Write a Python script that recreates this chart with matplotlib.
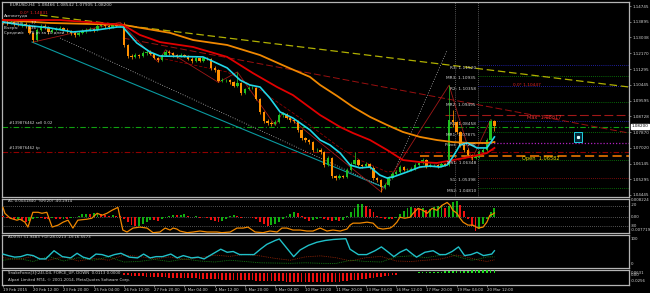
import matplotlib
matplotlib.use("Agg")
import matplotlib.pyplot as plt
from matplotlib.patches import Rectangle
from matplotlib.transforms import blended_transform_factory

plt.rcParams['font.family'] = ['DejaVu Sans']

# ---------------- data (EURUSD H4, 19 Feb 04:00 .. 20 Mar 2015) ----------------
opens = [1.1390, 1.1387, 1.1382, 1.1387, 1.1377, 1.1372, 1.1377, 1.1366, 1.1328, 1.1289,
         1.1344, 1.1366, 1.1360, 1.1333, 1.1344, 1.1349, 1.1355, 1.1344, 1.1338, 1.1328,
         1.1317, 1.1328, 1.1338, 1.1344, 1.1349, 1.1344, 1.1366, 1.1372, 1.1366, 1.1360,
         1.1372, 1.1366, 1.1372, 1.1262, 1.1202, 1.1197, 1.1207, 1.1202, 1.1218, 1.1224,
         1.1213, 1.1191, 1.1180, 1.1207, 1.1224, 1.1218, 1.1207, 1.1202, 1.1207, 1.1202,
         1.1186, 1.1175, 1.1191, 1.1175, 1.1191, 1.1186, 1.1137, 1.1126, 1.1066, 1.1071,
         1.1071, 1.1060, 1.1039, 1.1055, 1.1000, 1.1022, 1.1028, 1.1028, 1.0968, 1.0897,
         1.0848, 1.0837, 1.0831, 1.0842, 1.0880, 1.0886, 1.0864, 1.0853, 1.0848, 1.0799,
         1.0755, 1.0744, 1.0733, 1.0690, 1.0690, 1.0679, 1.0608, 1.0646, 1.0548, 1.0537,
         1.0548, 1.0543, 1.0581, 1.0613, 1.0635, 1.0608, 1.0602, 1.0613, 1.0592, 1.0537,
         1.0526, 1.0488, 1.0499, 1.0537, 1.0559, 1.0570, 1.0597, 1.0581, 1.0581, 1.0586,
         1.0608, 1.0619, 1.0635, 1.0602, 1.0608, 1.0608, 1.0602, 1.0613, 1.0608, 1.0853,
         1.0842, 1.0788, 1.0717, 1.0690, 1.0662, 1.0646, 1.0652, 1.0679, 1.0690, 1.0744,
         1.0847]
closes = [1.1387, 1.1382, 1.1387, 1.1377, 1.1372, 1.1377, 1.1366, 1.1328, 1.1289, 1.1344,
          1.1366, 1.1360, 1.1333, 1.1344, 1.1349, 1.1355, 1.1344, 1.1338, 1.1328, 1.1317,
          1.1328, 1.1338, 1.1344, 1.1349, 1.1344, 1.1366, 1.1372, 1.1366, 1.1360, 1.1372,
          1.1366, 1.1372, 1.1262, 1.1202, 1.1197, 1.1207, 1.1202, 1.1218, 1.1224, 1.1213,
          1.1191, 1.1180, 1.1207, 1.1224, 1.1218, 1.1207, 1.1202, 1.1207, 1.1202, 1.1186,
          1.1175, 1.1191, 1.1175, 1.1191, 1.1186, 1.1137, 1.1126, 1.1066, 1.1071, 1.1071,
          1.1060, 1.1039, 1.1055, 1.1000, 1.1022, 1.1028, 1.1028, 1.0968, 1.0897, 1.0848,
          1.0837, 1.0831, 1.0842, 1.0880, 1.0886, 1.0864, 1.0853, 1.0848, 1.0799, 1.0755,
          1.0744, 1.0733, 1.0690, 1.0690, 1.0679, 1.0608, 1.0646, 1.0548, 1.0537, 1.0548,
          1.0543, 1.0581, 1.0613, 1.0635, 1.0608, 1.0602, 1.0613, 1.0592, 1.0537, 1.0526,
          1.0488, 1.0499, 1.0537, 1.0559, 1.0570, 1.0597, 1.0581, 1.0581, 1.0586, 1.0608,
          1.0619, 1.0635, 1.0602, 1.0608, 1.0608, 1.0602, 1.0613, 1.0608, 1.0853, 1.0842,
          1.0788, 1.0717, 1.0690, 1.0662, 1.0646, 1.0652, 1.0679, 1.0690, 1.0744, 1.0847,
          1.0820]
highs = [1.1401, 1.1396, 1.1398, 1.1395, 1.1388, 1.1386, 1.1385, 1.1374, 1.1335, 1.1352,
         1.1378, 1.1377, 1.1368, 1.1353, 1.1358, 1.1364, 1.1362, 1.1352, 1.1346, 1.1336,
         1.1337, 1.1348, 1.1353, 1.1359, 1.1357, 1.1376, 1.1384, 1.1381, 1.1374, 1.1383,
         1.1380, 1.1384, 1.1386, 1.1270, 1.1212, 1.1216, 1.1215, 1.1228, 1.1234, 1.1232,
         1.1220, 1.1199, 1.1215, 1.1236, 1.1232, 1.1225, 1.1214, 1.1216, 1.1215, 1.1210,
         1.1194, 1.1200, 1.1198, 1.1199, 1.1198, 1.1193, 1.1145, 1.1133, 1.1080, 1.1079,
         1.1078, 1.1068, 1.1115, 1.1061, 1.1030, 1.1036, 1.1036, 1.1035, 1.0975, 1.0905,
         1.0856, 1.0846, 1.0851, 1.0890, 1.0895, 1.0893, 1.0871, 1.0860, 1.0855, 1.0806,
         1.0762, 1.0752, 1.0740, 1.0699, 1.0698, 1.0686, 1.0656, 1.0652, 1.0556, 1.0557,
         1.0555, 1.0590, 1.0622, 1.0679, 1.0642, 1.0616, 1.0622, 1.0620, 1.0600, 1.0545,
         1.0533, 1.0510, 1.0546, 1.0568, 1.0580, 1.0606, 1.0605, 1.0590, 1.0595, 1.0617,
         1.0628, 1.0648, 1.0642, 1.0617, 1.0616, 1.0615, 1.0622, 1.0620, 1.1043, 1.0910,
         1.0850, 1.0795, 1.0725, 1.0698, 1.0670, 1.0662, 1.0688, 1.0699, 1.0753, 1.0856,
         1.0854]
lows = [1.1378, 1.1372, 1.1374, 1.1368, 1.1363, 1.1362, 1.1355, 1.1320, 1.1278, 1.1284,
        1.1338, 1.1351, 1.1324, 1.1325, 1.1336, 1.1342, 1.1336, 1.1330, 1.1319, 1.1305,
        1.1309, 1.1320, 1.1330, 1.1336, 1.1335, 1.1337, 1.1358, 1.1357, 1.1351, 1.1352,
        1.1358, 1.1359, 1.1250, 1.1190, 1.1188, 1.1189, 1.1193, 1.1195, 1.1210, 1.1205,
        1.1183, 1.1170, 1.1174, 1.1200, 1.1210, 1.1199, 1.1193, 1.1195, 1.1194, 1.1178,
        1.1166, 1.1168, 1.1167, 1.1168, 1.1178, 1.1128, 1.1117, 1.1058, 1.1059, 1.1063,
        1.1052, 1.1031, 1.1033, 1.0992, 1.0994, 1.1015, 1.1020, 1.0960, 1.0888, 1.0838,
        1.0828, 1.0822, 1.0824, 1.0835, 1.0872, 1.0856, 1.0845, 1.0839, 1.0790, 1.0746,
        1.0735, 1.0724, 1.0681, 1.0680, 1.0670, 1.0598, 1.0600, 1.0538, 1.0527, 1.0530,
        1.0535, 1.0536, 1.0574, 1.0606, 1.0600, 1.0594, 1.0595, 1.0584, 1.0528, 1.0516,
        1.0462, 1.0478, 1.0492, 1.0530, 1.0551, 1.0563, 1.0573, 1.0573, 1.0574, 1.0579,
        1.0600, 1.0611, 1.0594, 1.0595, 1.0600, 1.0594, 1.0595, 1.0600, 1.0600, 1.0815,
        1.0778, 1.0708, 1.0681, 1.0655, 1.0637, 1.0638, 1.0645, 1.0671, 1.0683, 1.0737,
        1.0791]

# moving averages (bar position, price)
cyan_b = [0, 4.5, 12.4, 18.5, 24.9, 30.2, 31.7, 35.4, 38.9, 41.5, 52.9, 54.8, 59.3, 62.7, 65.3,
          68.0, 70.6, 73.3, 76.7, 81.2, 83.9, 86.5, 89.2, 91.8, 94.4, 97.1, 99.7, 101.6, 103.2,
          106.9, 110.3, 113.0, 115.6, 117.5, 119.0, 120.9, 122.8, 125.4, 128.0, 129.1, 130]
cyan_p = [1.1387, 1.1372, 1.1355, 1.1333, 1.1344, 1.1360, 1.1360, 1.1273, 1.1224, 1.1202,
          1.1197, 1.1180, 1.1137, 1.1071, 1.1044, 1.1033, 1.0973, 1.0897, 1.0864, 1.0799,
          1.0744, 1.0717, 1.0673, 1.0608, 1.0592, 1.0597, 1.0553, 1.0537, 1.0543, 1.0570,
          1.0597, 1.0602, 1.0597, 1.0608, 1.0652, 1.0717, 1.0728, 1.0701, 1.0701, 1.0733, 1.0761]
red_b = [0, 15.1, 31.7, 36.2, 41.5, 50.3, 59.3, 66.1, 72.5, 76.7, 83.9, 89.2, 92.6, 97.1, 101.6,
         105.8, 110.3, 114.8, 119.0, 123.5, 128.0, 130]
red_p = [1.1398, 1.1398, 1.1372, 1.1317, 1.1278, 1.1251, 1.1197, 1.1109, 1.1033, 1.0989, 1.0880,
         1.0815, 1.0782, 1.0744, 1.0690, 1.0635, 1.0624, 1.0619, 1.0635, 1.0652, 1.0673, 1.0701]
orange_b = [0, 12.4, 31.7, 44.2, 50.3, 59.3, 68.0, 75.1, 81.2, 83.9, 88.4, 92.6, 97.1, 101.6,
            105.8, 110.3, 114.8, 119.0, 123.5, 128.0, 130]
orange_p = [1.1398, 1.1382, 1.1372, 1.1328, 1.1289, 1.1262, 1.1207, 1.1142, 1.1088, 1.1044,
            1.0984, 1.0924, 1.0870, 1.0826, 1.0788, 1.0761, 1.0744, 1.0733, 1.0728, 1.0728, 1.0733]
env_b = [41.5, 59.3, 68.0, 78.6, 89.2, 94.4, 101.6, 110.3, 119.0, 130]
env_p = [1.1191, 1.1115, 1.1017, 1.0864, 1.0701, 1.0635, 1.0570, 1.0592, 1.0624, 1.0690]
zz_b = [8, 31, 41, 43, 57, 62, 72, 74, 100, 118, 124, 129]
zz_p = [1.1278, 1.1386, 1.1170, 1.1236, 1.1058, 1.1115, 1.0824, 1.0895, 1.0462, 1.1043, 1.0637, 1.0856]

# trend lines (start bar, start price, end bar, end price)
yellow_tl = (9.8, 1.1425, 165.6, 1.1033)
darkred_tl = (31.7, 1.1300, 165.6, 1.0782)
teal_tl = (7.7, 1.1278, 101.1, 1.0483)
grey_tl1 = (15.1, 1.1300, 100.5, 1.0488)
grey_tl2 = (101.9, 1.0499, 117.5, 1.1235)
day_sep = [119.6, 125.7]

# pivot levels
piv_names = ["R3", "MR3", "R2", "MR2", "R1", "MR1", "Pivot", "MS1", "S1", "MS2"]
piv_vals = [1.11520, 1.10935, 1.10358, 1.09495, 1.08458, 1.07875, 1.07290, 1.06348, 1.05398, 1.04810]
piv_cols = ["#2a2ad0", "#0a8a0a", "#2a2ad0", "#0a8a0a", "#2a2ad0", "#0a8a0a", "#b020c0",
            "#0a8a0a", "#a01010", "#0a8a0a"]
sell_level = 1.0815
tp_level = 1.0679
max_level = 1.08817
open_level = 1.06582
fib_top = 1.10447

price_ticks = [1.14745, 1.13895, 1.13038, 1.12170, 1.11295, 1.10445, 1.09595, 1.08728,
               1.07870, 1.07020, 1.06145, 1.05295, 1.04445]
time_pos = [0, 8, 16, 24, 32, 40, 48, 56, 64, 72, 80, 88, 96, 104, 112, 120, 128]
time_lbl = ["19 Feb 2015", "20 Feb 12:00", "23 Feb 20:00", "25 Feb 04:00", "26 Feb 12:00",
            "27 Feb 20:00", "3 Mar 04:00", "4 Mar 12:00", "5 Mar 20:00", "9 Mar 04:00",
            "10 Mar 12:00", "11 Mar 20:00", "13 Mar 04:00", "16 Mar 12:00", "17 Mar 20:00",
            "19 Mar 04:00", "20 Mar 12:00"]

# Accelerator oscillator
ac = [0.0003, -0.0004, -0.0008, -0.0012, -0.0010, -0.0016, -0.0026, -0.0022, -0.0012, -0.0005,
      -0.0007, -0.0009, -0.0011, -0.0008, -0.0010, -0.0012, -0.0009, -0.0011, -0.0006, -0.0002,
      0.0006, 0.0012, 0.0016, 0.0013, 0.0017, 0.0020, 0.0014, 0.0009, 0.0006, 0.0008,
      0.0004, 0.0002, -0.0010, -0.0028, -0.0042, -0.0048, -0.0046, -0.0038, -0.0025, -0.0016,
      -0.0018, -0.0022, -0.0012, -0.0004, 0.0004, 0.0010, 0.0008, 0.0011, 0.0013, 0.0006,
      0.0001, 0.0003, -0.0004, -0.0002, -0.0007, -0.0014, -0.0020, -0.0026, -0.0020, -0.0011,
      0.0002, 0.0009, 0.0006, -0.0004, -0.0002, -0.0001, -0.0005, -0.0012, -0.0024, -0.0036,
      -0.0046, -0.0044, -0.0038, -0.0026, -0.0012, 0.0004, 0.0015, 0.0024, 0.0018, 0.0004,
      -0.0010, -0.0019, -0.0016, -0.0012, -0.0008, -0.0012, -0.0016, -0.0021, -0.0018, -0.0022,
      -0.0014, 0.0003, 0.0022, 0.0045, 0.0062, 0.0066, 0.0052, 0.0040, 0.0022, 0.0006,
      -0.0006, -0.0012, -0.0009, -0.0013, -0.0005, 0.0012, 0.0030, 0.0042, 0.0050, 0.0044,
      0.0038, 0.0045, 0.0036, 0.0040, 0.0048, 0.0056, 0.0060, 0.0042, 0.0055, 0.0072,
      0.0080, 0.0058, 0.0030, -0.0010, -0.0045, -0.0071, -0.0060, -0.0035, -0.0012, 0.0024,
      0.0042]
# Williams %R(20)
wr_b = [0, 0.5, 1.9, 3.7, 4.5, 5.8, 6.6, 7.9, 9.3, 10.3, 11.6, 13.0, 14.6, 15.9, 17.2, 18.5,
        19.8, 22.2, 23.5, 24.9, 26.2, 27.5, 28.8, 30.4, 31.7, 32.8, 34.4, 36.2, 38.1, 39.7,
        41.5, 42.9, 44.2, 45.0, 46.0, 46.8, 48.7, 50.3, 52.1, 54.0, 56.6, 57.9, 60.1, 61.9,
        63.5, 64.8, 66.7, 68.8, 70.6, 72.5, 73.8, 75.1, 76.7, 78.6, 80.4, 82.0, 83.9, 85.7,
        87.3, 89.2, 91.0, 91.8, 92.6, 94.4, 96.3, 97.9, 99.2, 100.5, 102.4, 103.2, 104.2,
        105.0, 106.3, 107.7, 108.5, 109.8, 111.1, 112.2, 113.5, 114.8, 116.1, 117.5, 118.3,
        119.0, 120.1, 120.9, 121.7, 123.0, 124.3, 125.7, 127.0, 128.0, 128.8, 129.5, 130]
wr_v = [-23, -41, -56, -62, -59, -68, -83, -38, -38, -41, -38, -83, -77, -68, -62, -86, -62,
        -59, -56, -41, -47, -41, -32, -23, -92, -98, -86, -83, -86, -100, -98, -86, -92, -86,
        -89, -95, -100, -98, -95, -98, -98, -100, -98, -86, -86, -83, -98, -100, -95, -98,
        -86, -86, -92, -92, -95, -95, -86, -95, -92, -95, -89, -77, -71, -71, -68, -71, -86,
        -89, -86, -80, -68, -53, -56, -53, -41, -26, -32, -41, -26, -32, -17, -8, -17, -32,
        -41, -56, -68, -77, -77, -86, -83, -68, -47, -44, -40]
# ADX(5)
adx_b = [0, 1.4, 3.1, 4.7, 6.4, 8.0, 9.7, 11.3, 13.5, 15.7, 17.9, 19.6, 21.2, 22.9, 24.6, 26.2,
         27.9, 29.5, 31.2, 33.4, 35.6, 37.2, 38.9, 40.5, 42.2, 44.4, 46.1, 47.7, 49.9, 51.6,
         53.2, 55.4, 57.6, 59.3, 60.9, 62.6, 64.2, 66.4, 68.1, 69.8, 72.0, 73.1, 75.3, 76.9,
         78.6, 80.8, 83.0, 85.2, 87.4, 90.7, 91.8, 94.0, 96.2, 98.4, 100.1, 101.7, 103.4,
         105.0, 106.7, 108.3, 109.4, 111.6, 113.8, 115.5, 117.1, 118.8, 120.5, 122.1, 123.8,
         125.4, 127.1, 129.3, 130]
adx_v = [39, 33, 27, 29, 37, 33, 20, 20, 52, 29, 24, 42, 27, 20, 39, 37, 29, 37, 42, 27, 24,
         39, 24, 29, 29, 39, 24, 33, 24, 27, 20, 39, 58, 46, 49, 37, 37, 37, 58, 77, 92, 98,
         58, 29, 55, 73, 85, 92, 96, 99, 58, 37, 37, 52, 67, 49, 29, 46, 58, 39, 27, 46, 52,
         37, 37, 49, 67, 33, 37, 46, 33, 39, 52]
di_b = [0, 4, 8, 12, 16, 20, 24, 28, 32, 36, 40, 44, 48, 52, 56, 60, 64, 68, 72, 76, 80, 84,
        88, 92, 96, 100, 104, 108, 112, 116, 118, 120, 122, 124, 126, 128, 130]
minus_di = [25, 18, 30, 15, 28, 12, 22, 15, 35, 30, 20, 28, 18, 25, 35, 30, 38, 32, 22, 15,
            28, 32, 25, 12, 25, 30, 12, 10, 15, 20, 28, 35, 30, 22, 15, 10, 16.5]
plus_di = [15, 22, 10, 30, 12, 25, 15, 28, 8, 10, 18, 10, 20, 12, 8, 15, 10, 5, 4, 3, 5, 3,
           2, 15, 10, 8, 28, 32, 25, 35, 40, 30, 22, 15, 20, 28, 28]
# SnakeForce histogram
snake = [0.0, 0.0, 0.0, 0.0, 0.0, 0.0, 0.0, 0.0, 0.0, 0.0,
         0.0, 0.0, 0.0, 0.0, 0.0, 0.0, 0.0, 0.0, 0.0, 0.0,
         0.0, 0.0, 0.0, 0.0, 0.0, 0.0, 0.0, 0.0, 0.0, 0.0,
         0.0, 0.0, -0.0040, -0.0055, -0.0065, -0.0072, -0.0080, -0.0086, -0.0092, -0.0098,
         -0.0104, -0.0110, -0.0115, -0.0119, -0.0123, -0.0127, -0.0131, -0.0134, -0.0137, -0.0141,
         -0.0145, -0.0149, -0.0152, -0.0156, -0.0160, -0.0165, -0.0170, -0.0176, -0.0180, -0.0184,
         -0.0188, -0.0192, -0.0195, -0.0199, -0.0202, -0.0205, -0.0208, -0.0212, -0.0217, -0.0222,
         -0.0226, -0.0229, -0.0232, -0.0234, -0.0236, -0.0238, -0.0240, -0.0242, -0.0245, -0.0248,
         -0.0251, -0.0253, -0.0255, -0.0256, -0.0256, -0.0255, -0.0252, -0.0250, -0.0245, -0.0238,
         -0.0230, -0.0220, -0.0208, -0.0195, -0.0182, -0.0168, -0.0154, -0.0140, -0.0126, -0.0112,
         -0.0098, -0.0082, -0.0066, -0.0050, -0.0034, 0.0010, 0.0014, 0.0018, 0.0022, 0.0026,
         0.0030, 0.0034, 0.0038, 0.0042, 0.0046, 0.0050, 0.0054, 0.0058, 0.0062, 0.0066,
         0.0070, 0.0074, 0.0078, 0.0082, 0.0086, 0.0090, 0.0094, 0.0098, 0.0103, 0.0108,
         0.0113]

# ---------------- figure ----------------
W, H = 650, 293
fig = plt.figure(figsize=(W / 100, H / 100), dpi=100, facecolor='black')
TXT = '#d4d4d4'
FRAME = '#b4b4b4'
XL = (-0.26, 165.6)


def P(x, y):
    return x / W, 1 - y / H


def panel(y0, y1):
    a = fig.add_axes([2 / W, 1 - y1 / H, 627 / W, (y1 - y0) / H])
    a.set_facecolor('black')
    for s in a.spines.values():
        s.set_color(FRAME)
        s.set_linewidth(0.9)
    a.set_xlim(*XL)
    a.tick_params(left=False, labelleft=False, bottom=False, labelbottom=False,
                  right=False, top=False)
    return a


ax = panel(2, 197)
ax_ac = panel(198.5, 233)
ax_adx = panel(234.5, 268)
ax_sn = panel(269.5, 285)

# ---- main price panel ----
ax.set_ylim(1.04336, 1.14963)
n = len(closes)
idx = list(range(n))
bull, bear = '#20c020', '#ff9000'
cols = [bull if closes[i] >= opens[i] else bear for i in idx]
ax.vlines(idx, lows, highs, colors=cols, lw=0.55, zorder=5)
bodies = [max(abs(closes[i] - opens[i]), 0.00012) for i in idx]
bottoms = [min(closes[i], opens[i]) for i in idx]
ax.bar(idx, bodies, bottom=bottoms, width=0.62, color=cols, lw=0, zorder=5)

def seg(t, **kw):
    ax.plot([t[0], t[2]], [t[1], t[3]], **kw)

seg(yellow_tl, color='#b0b000', lw=0.9, dashes=(6, 3), zorder=3)
seg(darkred_tl, color='#9a1010', lw=0.7, dashes=(7, 3), zorder=3)
seg(teal_tl, color='#0a9aa0', lw=0.8, zorder=3)
seg(grey_tl1, color='#b8b8b8', lw=0.6, dashes=(1, 2), zorder=3)
seg(grey_tl2, color='#b8b8b8', lw=0.6, dashes=(1, 2), zorder=3)
for xb in day_sep:
    ax.axvline(xb, color='#a8a8a8', lw=0.5, dashes=(1, 2), zorder=2)

ax.plot(env_b, env_p, color='#8b0000', lw=0.6, dashes=(4, 2), zorder=4)
ax.plot(zz_b, zz_p, color='#a01818', lw=0.6, zorder=4)
ax.plot(orange_b, orange_p, color='#f08800', lw=1.3, zorder=6)
ax.plot(red_b, red_p, color='#e00000', lw=1.3, zorder=6)
ax.plot(cyan_b, cyan_p, color='#20d8e8', lw=1.2, zorder=7)

# order lines
ax.axhline(sell_level, color='#10a010', lw=0.8, dashes=(5, 2, 1, 2), zorder=2)
ax.axhline(tp_level, color='#900000', lw=0.8, dashes=(5, 2, 1, 2), zorder=2)
ax.text(1.5, sell_level + 0.0009, "#139876462 sell 0.02", fontsize=2.8, color=TXT, va='bottom', zorder=9)
ax.text(1.5, tp_level + 0.0009, "#139876462 tp", fontsize=2.8, color=TXT, va='bottom', zorder=9)

# pivot levels + labels
for name, v, c in zip(piv_names, piv_vals, piv_cols):
    lw = 0.9 if name == "Pivot" else 0.6
    ax.plot([day_sep[1], XL[1]], [v, v], color=c, lw=lw, dashes=(1, 1.5), zorder=2)
    ax.text(125.1, v - 0.0003, f"{name}: {v:.5f}", fontsize=3.1, color=TXT,
            ha='right', va='top', zorder=9)

ax.plot([116.9, XL[1]], [max_level, max_level], color='#a01818', lw=0.8, dashes=(8, 3), zorder=2)
ax.text(138.5, max_level - 0.0002, "Max  1.08817", fontsize=3.6, color='#e83030',
        va='top', zorder=9)
ax.plot([110.3, XL[1]], [open_level, open_level], color='#ff7f00', lw=1.1, dashes=(6, 3), zorder=2)
ax.text(137.3, open_level - 0.0003, "Open  1.06582", fontsize=3.6, color='#e8e000',
        va='top', zorder=9)
ax.text(135.0, fib_top, "0.0* 1.10447", fontsize=3.1, color='#e02020', va='center', zorder=9)

# small cyan object box
ax.add_patch(Rectangle((151.1, 1.0733), 2.1, 0.0055, facecolor='#002838',
                       edgecolor='#20d0e0', lw=0.7, zorder=8))
ax.plot([152.15], [1.0762], marker='s', ms=1.3, color='#e0ffff', zorder=9)

# right price axis
ax.yaxis.tick_right()
ax.set_yticks(price_ticks)
ax.set_yticklabels([f"{p:.5f}" for p in price_ticks])
ax.tick_params(axis='y', right=True, labelright=True, colors=TXT, labelsize=3,
               length=1.5, width=0.4, pad=1)
bt = blended_transform_factory(ax.transAxes, ax.transData)
ax.text(1.004, closes[-1], f"{closes[-1]:.5f}", transform=bt, fontsize=3, color='black',
        va='center', ha='left', zorder=20, clip_on=False,
        bbox=dict(facecolor='white', edgecolor='white', pad=0.4))

# header texts
fig.text(*P(10, 5), "EURUSD,H4  1.08466 1.08542 1.07905 1.08200", fontsize=3.1, color=TXT, va='center')
fig.text(*P(20, 12.5), "0.0* 1.14831", fontsize=3.1, color='#e02020', va='center')
fig.text(*P(4, 16.5), "Амплитуда", fontsize=3.0, color=TXT, va='center')
fig.text(*P(4, 22), "Сегодня:      77", fontsize=3.0, color=TXT, va='center')
fig.text(*P(4, 27.5), "Вчера:        136", fontsize=3.0, color=TXT, va='center')
fig.text(*P(4, 33), "Средний:    76 pt за 10 дней", fontsize=3.0, color=TXT, va='center')

# ---- AC / %R panel ----
ax_ac.set_ylim(-0.0082, 0.0092)
ac_cols = ['#10b010' if (i > 0 and ac[i] > ac[i - 1]) else '#f01010' for i in idx]
ax_ac.bar(idx, ac, width=0.5, color=ac_cols, lw=0, zorder=3)
ax_ac.axhline(0, color='#a0a0a0', lw=0.5, dashes=(1, 2), zorder=2)
ax_wr = ax_ac.twinx()
ax_wr.set_xlim(*XL)
ax_wr.set_ylim(-101, 4)
ax_wr.axis('off')
for lv in (-20, -80):
    ax_wr.axhline(lv, color='#a0a0a0', lw=0.5, dashes=(1, 2), zorder=2)
ax_wr.plot(wr_b, wr_v, color='#f08800', lw=0.9, zorder=4)
fig.text(*P(8, 201.5), "AC 0.0041840  %R(20) -40.2914", fontsize=2.9, color=TXT, va='center')
for ypx, s in [(200, "0.008224"), (205.5, "-20"), (216.5, "0.00"), (226, "-80"), (230, "-0.007719")]:
    fig.text(*P(631, ypx), s, fontsize=2.8, color=TXT, va='center')

# ---- ADX panel ----
ax_adx.set_ylim(-15.4, 115.4)
ax_adx.plot(di_b, minus_di, color='#a02808', lw=0.6, dashes=(1, 1.2), zorder=3)
ax_adx.plot(di_b, plus_di, color='#1a8a1a', lw=0.6, dashes=(1, 1.2), zorder=3)
ax_adx.plot(adx_b, adx_v, color='#20c0c8', lw=1.0, zorder=4)
fig.text(*P(8, 237.5), "ADX(5) 51.9483 +DI:28.0213 -DI:16.5573", fontsize=2.9, color=TXT, va='center')
fig.text(*P(631, 238.5), "100", fontsize=2.8, color=TXT, va='center')
fig.text(*P(631, 264), "0", fontsize=2.8, color=TXT, va='center')

# ---- SnakeForce panel ----
ax_sn.set_ylim(-0.034, 0.0114)
sn_cols = ['#20e020' if v > 0 else '#f01010' for v in snake]
ax_sn.bar(idx, snake, width=0.45, color=sn_cols, lw=0, zorder=3)
fig.text(*P(8, 272), "SnakeForce[3](24),D4, FORCE_UP, DOWN  0.0113 0.0000", fontsize=2.8, color=TXT, va='center')
fig.text(*P(8, 280.5), "Alpari Limited MT4, © 2001-2014, MetaQuotes Software Corp.", fontsize=2.8, color=TXT, va='center')
fig.text(*P(631, 272.5), "0.0631", fontsize=2.8, color=TXT, va='center')
fig.text(*P(631, 275), "0.00", fontsize=2.8, color=TXT, va='center')
fig.text(*P(631, 281.5), "-0.0256", fontsize=2.8, color=TXT, va='center')

# time axis
ax_sn.set_xticks(time_pos)
ax_sn.set_xticklabels(time_lbl)
ax_sn.tick_params(axis='x', bottom=True, labelbottom=True, colors=TXT, labelsize=2.8,
                  length=1.5, width=0.4, pad=1)
for t in ax_sn.get_xticklabels():
    t.set_horizontalalignment('left')

fig.savefig('out.png', dpi=100, facecolor='black')
